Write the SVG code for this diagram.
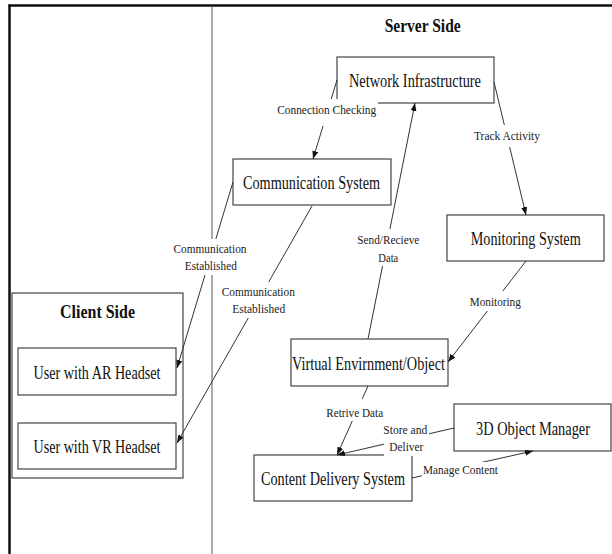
<svg xmlns="http://www.w3.org/2000/svg" width="612" height="554" viewBox="0 0 612 554">
<style>
.box{fill:#fff;stroke:#444;stroke-width:1.2}
.nt{font-family:"Liberation Serif","Times New Roman",serif;font-size:18px;fill:#111;text-anchor:middle}
.tt{font-family:"Liberation Serif","Times New Roman",serif;font-size:19px;font-weight:bold;fill:#111;text-anchor:middle}
.lt{font-family:"Liberation Serif","Times New Roman",serif;font-size:13.5px;fill:#222;text-anchor:middle}
.ln{stroke:#333;stroke-width:1;fill:none;marker-end:url(#ah)}
.bg{fill:#fff}
</style>
<defs>
<marker id="ah" markerWidth="8" markerHeight="6" refX="8" refY="3" orient="auto" markerUnits="userSpaceOnUse">
<path d="M0,0 L8,3 L0,6 z" fill="#111"/>
</marker>
</defs>
<rect x="0" y="0" width="612" height="554" fill="#fff"/>
<g id="frame">
<line x1="9.5" y1="4.5" x2="9.5" y2="554" stroke="#111" stroke-width="2.5"/>
<line x1="8.5" y1="5.5" x2="612" y2="5.5" stroke="#111" stroke-width="2.5"/>
<line x1="212" y1="6" x2="212" y2="554" stroke="#555" stroke-width="1"/>
<text class="tt" x="422.7" y="32" textLength="76" lengthAdjust="spacingAndGlyphs">Server Side</text>
</g>
<g id="client-side">
<rect class="box" x="12" y="293" width="171" height="185"/>
<text class="tt" x="97.5" y="317.5" textLength="75" lengthAdjust="spacingAndGlyphs">Client Side</text>
</g>
<g id="ar-user">
<rect class="box" x="18" y="348" width="158" height="47"/>
<text class="nt" x="97" y="378.5" textLength="127" lengthAdjust="spacingAndGlyphs">User with AR Headset</text>
</g>
<g id="vr-user">
<rect class="box" x="18" y="423" width="158" height="46"/>
<text class="nt" x="97" y="452.5" textLength="127" lengthAdjust="spacingAndGlyphs">User with VR Headset</text>
</g>
<g id="network-infrastructure">
<rect class="box" x="337" y="57" width="157" height="46"/>
<text class="nt" x="415" y="87" textLength="132" lengthAdjust="spacingAndGlyphs">Network Infrastructure</text>
</g>
<g id="communication-system">
<rect class="box" x="233" y="159" width="158" height="46"/>
<text class="nt" x="311.5" y="189" textLength="137" lengthAdjust="spacingAndGlyphs">Communication System</text>
</g>
<g id="monitoring-system">
<rect class="box" x="447" y="215" width="157" height="46"/>
<text class="nt" x="525.7" y="245" textLength="110" lengthAdjust="spacingAndGlyphs">Monitoring System</text>
</g>
<g id="virtual-environment">
<rect class="box" x="291" y="339" width="157" height="47"/>
<text class="nt" x="368.5" y="369.5" textLength="153" lengthAdjust="spacingAndGlyphs">Virtual Envirnment/Object</text>
</g>
<g id="content-delivery">
<rect class="box" x="254" y="455" width="158" height="46"/>
<text class="nt" x="333" y="484.5" textLength="144" lengthAdjust="spacingAndGlyphs">Content Delivery System</text>
</g>
<g id="object-manager">
<rect class="box" x="454" y="404" width="157" height="47"/>
<text class="nt" x="533" y="434.5" textLength="114" lengthAdjust="spacingAndGlyphs">3D Object Manager</text>
</g>
<g id="connectors">
<line class="ln" x1="337" y1="80" x2="313" y2="159"/>
<line class="ln" x1="494" y1="82" x2="526" y2="215"/>
<line class="ln" x1="368" y1="339" x2="415" y2="103"/>
<line class="ln" x1="526" y1="261" x2="448" y2="362"/>
<line class="ln" x1="233" y1="182" x2="177" y2="368"/>
<line class="ln" x1="312" y1="206" x2="177" y2="443"/>
<line class="ln" x1="368" y1="386" x2="337" y2="455"/>
<line class="ln" x1="454" y1="428" x2="337" y2="455"/>
<line class="ln" x1="412" y1="478" x2="533" y2="451"/>
<rect class="bg" x="276" y="99" width="102" height="27"/>
<text class="lt" x="326.7" y="114" textLength="99" lengthAdjust="spacingAndGlyphs">Connection Checking</text>
<rect class="bg" x="472" y="125" width="70" height="22"/>
<text class="lt" x="507" y="139.5" textLength="66" lengthAdjust="spacingAndGlyphs">Track Activity</text>
<rect class="bg" x="355" y="229" width="67" height="37"/>
<text class="lt" x="388.3" y="244" textLength="62" lengthAdjust="spacingAndGlyphs">Send/Recieve</text>
<text class="lt" x="388.3" y="262" textLength="20" lengthAdjust="spacingAndGlyphs">Data</text>
<rect class="bg" x="171" y="239" width="78" height="36"/>
<text class="lt" x="210" y="253" textLength="73" lengthAdjust="spacingAndGlyphs">Communication</text>
<text class="lt" x="210.8" y="270" textLength="52" lengthAdjust="spacingAndGlyphs">Established</text>
<rect class="bg" x="219" y="282" width="79" height="36"/>
<text class="lt" x="258.3" y="296" textLength="73" lengthAdjust="spacingAndGlyphs">Communication</text>
<text class="lt" x="258.7" y="313" textLength="53" lengthAdjust="spacingAndGlyphs">Established</text>
<rect class="bg" x="468" y="291" width="55" height="20"/>
<text class="lt" x="495.3" y="306" textLength="51" lengthAdjust="spacingAndGlyphs">Monitoring</text>
<rect class="bg" x="324" y="399" width="62" height="22"/>
<text class="lt" x="354.7" y="417" textLength="57" lengthAdjust="spacingAndGlyphs">Retrive Data</text>
<rect class="bg" x="384" y="420" width="45" height="36"/>
<text class="lt" x="405.3" y="433.5" textLength="44" lengthAdjust="spacingAndGlyphs">Store and</text>
<text class="lt" x="406.3" y="451" textLength="34" lengthAdjust="spacingAndGlyphs">Deliver</text>
<rect class="bg" x="422" y="462" width="74" height="16"/>
<text class="lt" x="460.5" y="474" textLength="75" lengthAdjust="spacingAndGlyphs">Manage Content</text>
</g>
</svg>
